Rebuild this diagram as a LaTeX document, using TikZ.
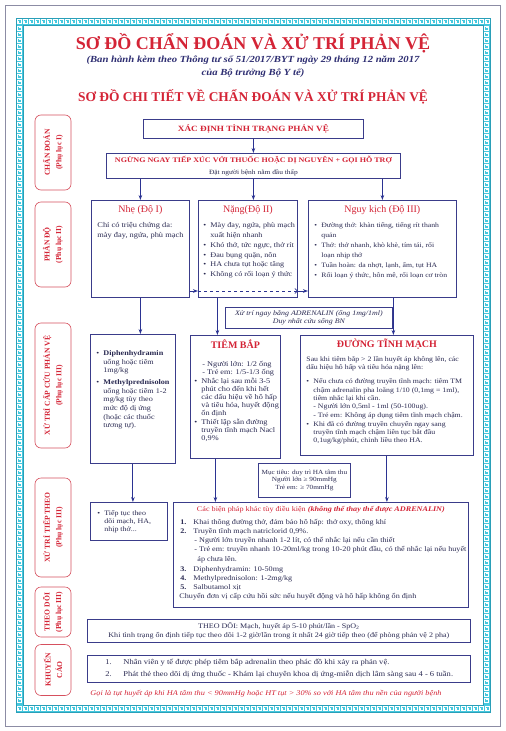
\documentclass[tikz,border=0pt]{standalone}
\usepackage{fontspec}
\setmainfont{Liberation Serif}
\newfontfamily\bodyfam{Liberation Serif}[FakeStretch=1.15]
\usetikzlibrary{arrows.meta, positioning, calc}

\definecolor{titlered}{HTML}{D42436}
\definecolor{labred}{HTML}{D6505E}
\definecolor{boxnavy}{HTML}{3A3C8A}
\definecolor{arrownavy}{HTML}{2B3392}
\definecolor{bodytext}{HTML}{2A2A52}
\definecolor{subnavy}{HTML}{2E2E72}
\definecolor{keycyan}{HTML}{45C8DE}
\definecolor{keyteal}{HTML}{2A9FB8}
\definecolor{framegray}{HTML}{8C8CA4}

\newcommand{\titlefont}{\fontsize{18}{20}\selectfont\bfseries}
\newcommand{\subtitlefont}{\bodyfam\fontsize{9.3}{13}\selectfont\bfseries\itshape}
\newcommand{\headfont}{\fontsize{13.4}{15}\selectfont\bfseries}
\newcommand{\labfont}{\fontsize{7.6}{11.5}\selectfont\bfseries}
\newcommand{\capfont}{\bodyfam\fontsize{8}{10}\selectfont\bfseries}
\newcommand{\bodyfont}[2]{\bodyfam\fontsize{#1}{#2}\selectfont}
\newcommand{\boxhead}[1]{{\centering\fontsize{10}{12}\selectfont\color{titlered}#1\par}}
\newcommand{\boxheadbf}[1]{{\centering\fontsize{10}{12}\selectfont\bfseries\color{titlered}#1\par}}
\newcommand{\panelbody}[3]{\parbox[c][\dimexpr#2pt-6pt\relax][t]{\dimexpr#1pt-6pt\relax}{#3}}
\newcommand{\bul}[2][0pt]{\par\noindent\hspace*{#1}\makebox[7pt][l]{\textbullet}\begin{tabular}[t]{@{}l@{}}#2\end{tabular}}
\newcommand{\numit}[3][0pt]{\par\noindent\hspace*{#1}\makebox[13pt][l]{\textbf{#2}}\begin{tabular}[t]{@{}l@{}}#3\end{tabular}}
\newcommand{\plainlines}[2][0pt]{\par\noindent\hspace*{#1}\begin{tabular}[t]{@{}l@{}}#2\end{tabular}}

\tikzset{
  panel/.style={
    rectangle, draw=boxnavy, line width=0.8pt,
    anchor=north west, inner sep=3pt, text=bodytext
  },
  cpanel/.style={
    rectangle, draw=boxnavy, line width=0.8pt,
    anchor=north west, inner sep=1pt, align=center, text=bodytext
  },
  sidelabel/.style={
    rectangle, rounded corners=6pt, draw=labred, line width=0.6pt,
    rotate=90, minimum height=36pt, inner sep=1pt,
    align=center, text=titlered, font=\labfont
  },
  arrow/.style={-{Stealth[length=5pt, width=3.6pt]}, draw=arrownavy, line width=1pt},
  dasharrow/.style={-{Straight Barb[length=2.5pt, width=5pt]}, draw=arrownavy, line width=0.6pt, dashed},
  keyline/.style={draw=white, line width=0.55pt},
  keyedge/.style={draw=keyteal, line width=0.4pt}
}

\begin{document}
\begin{tikzpicture}[x=1pt, y=-1pt]

% ── Page and frame ───────────────────────────────────────────────────────────
\useasboundingbox (0,0) rectangle (506,731);
\fill[white] (0,0) rectangle (506,731);
\draw[framegray, line width=0.7pt] (5,5) rectangle (500,726);
\fill[keycyan, even odd rule] (16,18) rectangle (490,712) (23,25) rectangle (483,705);
\foreach \x in {16,22,...,484} {
  \draw[keyline, shift={(\x,18)}] (0.9,6.2) -- (0.9,1.2) -- (5.1,1.2) -- (5.1,4.8) -- (2.7,4.8) -- (2.7,3);
  \draw[keyline, shift={(\x,705)}] (0.9,6.2) -- (0.9,1.2) -- (5.1,1.2) -- (5.1,4.8) -- (2.7,4.8) -- (2.7,3);
}
\foreach \y in {25,31,...,699} {
  \draw[keyline, shift={(16,\y)}] (6.2,0.9) -- (1.2,0.9) -- (1.2,5.1) -- (4.8,5.1) -- (4.8,2.7) -- (3,2.7);
  \draw[keyline, shift={(483,\y)}] (6.2,0.9) -- (1.2,0.9) -- (1.2,5.1) -- (4.8,5.1) -- (4.8,2.7) -- (3,2.7);
}
\draw[keyedge] (16,18) rectangle (490,712) (23,25) rectangle (483,705);

% ── Titles ───────────────────────────────────────────────────────────────────
\node[font=\titlefont, text=titlered] (title) at (253,43)
  {SƠ ĐỒ CHẨN ĐOÁN VÀ XỬ TRÍ PHẢN VỆ};
\node[font=\subtitlefont, text=subnavy, align=center] (subtitle) at (253,66.5)
  {(Ban hành kèm theo Thông tư số 51/2017/BYT ngày 29 tháng 12 năm 2017\\của Bộ trưởng Bộ Y tế)};
\node[font=\headfont, text=titlered] (title2) at (253,97)
  {SƠ ĐỒ CHI TIẾT VỀ CHẨN ĐOÁN VÀ XỬ TRÍ PHẢN VỆ};

% ── Side labels ──────────────────────────────────────────────────────────────
\node[sidelabel, minimum width=75pt] (labchandoan) at (53,152.5) {CHẨN ĐOÁN\\(Phụ lục I)};
\node[sidelabel, minimum width=85pt] (labphando) at (53,244.5) {PHÂN ĐỘ\\(Phụ lục II)};
\node[sidelabel, minimum width=125pt] (labcapcuu) at (53,385.5) {XỬ TRÍ CẤP CỨU PHẢN VỆ\\(Phụ lục III)};
\node[sidelabel, minimum width=99pt] (labtiep) at (53,527.5) {XỬ TRÍ TIẾP THEO\\(Phụ lục III)};
\node[sidelabel, minimum width=50pt] (labtheodoi) at (53,612) {THEO DÕI\\(Phụ lục III)};
\node[sidelabel, minimum width=51pt] (labkhuyen) at (53,670) {KHUYẾN\\CÁO};

% ── Chẩn đoán ────────────────────────────────────────────────────────────────
\node[cpanel, minimum width=220pt, minimum height=19pt, font=\capfont, text=titlered]
  (xacdinh) at (143,119) {XÁC ĐỊNH TÌNH TRẠNG PHẢN VỆ};
\node[cpanel, minimum width=294pt, minimum height=25pt] (ngung) at (106,153)
  {{\bodyfont{7}{9}\bfseries\color{titlered}NGỪNG NGAY TIẾP XÚC VỚI THUỐC HOẶC DỊ NGUYÊN + GỌI HỖ TRỢ}\\
   {\bodyfont{6.5}{9}Đặt người bệnh nằm đầu thấp}};

% ── Phân độ ──────────────────────────────────────────────────────────────────
\node[panel] (nhe) at (91,200) {\panelbody{98}{97}{\vspace*{2pt}\boxhead{Nhẹ (Độ I)}\vspace{6pt}
  \bodyfont{7.3}{9.5}
  \plainlines[3pt]{Chỉ có triệu chứng da:\\mày đay, ngứa, phù mạch}}};
\node[panel] (nang) at (198,200) {\panelbody{99}{97}{\vspace*{2pt}\boxhead{Nặng(Độ II)}\vspace{6pt}
  \bodyfont{7.1}{9.5}
  \bul[2pt]{Mày đay, ngứa, phù mạch\\xuất hiện nhanh}
  \bul[2pt]{Khó thở, tức ngực, thở rít}
  \bul[2pt]{Đau bụng quặn, nôn}
  \bul[2pt]{HA chưa tụt hoặc tăng}
  \bul[2pt]{Không có rối loạn ý thức}}};
\node[panel] (nguy) at (308,200) {\panelbody{148}{97}{\vspace*{2pt}\boxhead{Nguy kịch (Độ III)}\vspace{6pt}
  \bodyfont{6.7}{9.5}
  \bul[3pt]{Đường thở: khàn tiếng, tiếng rít thanh\\quản}
  \bul[3pt]{Thở: thở nhanh, khò khè, tím tái, rối\\loạn nhịp thở}
  \bul[3pt]{Tuần hoàn: da nhợt, lạnh, ẩm, tụt HA}
  \bul[3pt]{Rối loạn ý thức, hôn mê, rối loạn cơ tròn}}};

\coordinate (stepy) at (0,291);
\draw[arrow] (nhe.east |- stepy) -- (nang.west |- stepy);
\draw[dasharrow] (nang.west |- stepy) -- (nang.east |- stepy);
\draw[arrow] (nang.east |- stepy) -- (nguy.west |- stepy);

\draw[arrow] (xacdinh) -- (ngung);
\draw[arrow] (ngung.south -| nhe.north) -- (nhe.north);
\draw[arrow] (ngung.south) -- (ngung.south |- nang.north);
\draw[arrow] (ngung.south -| nguy.north) -- (nguy.north);

% ── Xử trí cấp cứu ───────────────────────────────────────────────────────────
\node[cpanel, minimum width=167pt, minimum height=21pt, font={\bodyfont{6.9}{7.6}\itshape}]
  (adren) at (225,307) {Xử trí ngay bằng ADRENALIN (ống 1mg/1ml)\\Duy nhất cứu sống BN};

\node[panel] (diphen) at (90,334) {\panelbody{85}{129}{\vspace*{12pt}
  \bodyfont{7.1}{8.6}
  \bul[3pt]{\textbf{Diphenhydramin}\\uống hoặc tiêm\\1mg/kg}\vspace{2.5pt}
  \bul[3pt]{\textbf{Methylprednisolon}\\uống hoặc tiêm 1-2\\mg/kg tùy theo\\mức độ dị ứng\\(hoặc các thuốc\\tương tự).}}};
\node[panel] (tiembap) at (190,335) {\panelbody{90}{123}{\vspace*{1pt}\boxheadbf{TIÊM BẮP}\vspace{10pt}
  \bodyfont{7.2}{8}
  \plainlines[9pt]{- Người lớn: 1/2 ống\\- Trẻ em: 1/5-1/3 ống}
  \bul[1pt]{Nhắc lại sau mỗi 3-5\\phút cho đến khi hết\\các dấu hiệu về hô hấp\\và tiêu hóa, huyết động\\ổn định}
  \bul[1pt]{Thiết lập sẵn đường\\truyền tĩnh mạch Nacl\\0,9\%}}};
\node[panel] (tinhmach) at (300,335) {\panelbody{173}{120}{\vspace*{1pt}\boxheadbf{ĐƯỜNG TĨNH MẠCH}\vspace{5pt}
  \bodyfont{6.8}{8.3}
  \plainlines[3pt]{Sau khi tiêm bắp > 2 lần huyết áp không lên, các\\dấu hiệu hô hấp và tiêu hóa nặng lên:}\vspace{5pt}
  \bul[3pt]{Nếu chưa có đường truyền tĩnh mạch: tiêm TM\\chậm adrenalin pha loãng 1/10 (0,1mg = 1ml),\\tiêm nhắc lại khi cần.\\- Người lớn 0,5ml - 1ml (50-100ug).\\- Trẻ em: Không áp dụng tiêm tĩnh mạch chậm.}
  \bul[3pt]{Khi đã có đường truyền chuyển ngay sang\\truyền tĩnh mạch chậm liên tục bắt đầu\\0,1ug/kg/phút, chỉnh liều theo HA.}}};

\node[cpanel, minimum width=92pt, minimum height=34pt, font={\bodyfont{6.3}{7.5}}]
  (muctieu) at (258,463) {Mục tiêu: duy trì HA tâm thu\\Người lớn ≥ 90mmHg\\Trẻ em: ≥ 70mmHg};

\coordinate (nangout) at ([xshift=-30.5pt]nang.south);
\coordinate (nguyout) at ([xshift=11pt]nguy.south);
\draw[arrow] (nhe.south) -- (nhe.south |- diphen.north);
\draw[arrow] (nangout) -- (nangout |- tiembap.north);
\draw[arrow] (nguyout) -- (nguyout |- tinhmach.north);

% ── Xử trí tiếp theo ─────────────────────────────────────────────────────────
\node[panel] (tieptuc) at (90,502) {\panelbody{77}{38}{\vspace*{4pt}
  \bodyfont{6.9}{8}
  \bul[4pt]{Tiếp tục theo\\dõi mạch, HA,\\nhịp thở...}}};
\node[panel] (bienphap) at (173,502) {\panelbody{295}{105}{\vspace*{1pt}
  \bodyfont{7.1}{9.1}
  {\centering\color{titlered}Các biện pháp khác tùy điều kiện \textbf{\textit{(không thể thay thế được ADRENALIN)}}\par}\vspace{4pt}
  \numit[4pt]{1.}{Khai thông đường thở, đảm bảo hô hấp: thở oxy, thông khí}
  \numit[4pt]{2.}{Truyền tĩnh mạch natriclorid 0,9\%.}
  \plainlines[18pt]{- Người lớn truyền nhanh 1-2 lít, có thể nhắc lại nếu cần thiết}
  \plainlines[18pt]{- Trẻ em: truyền nhanh 10-20ml/kg trong 10-20 phút đầu, có thể nhắc lại nếu huyết\\\hspace*{3pt}áp chưa lên.}
  \numit[4pt]{3.}{Diphenhydramin: 10-50mg}
  \numit[4pt]{4.}{Methylprednisolon: 1-2mg/kg}
  \numit[4pt]{5.}{Salbutamol xịt}
  \plainlines[3pt]{Chuyển đơn vị cấp cứu hồi sức nếu huyết động và hô hấp không ổn định}}};

\coordinate (bapout) at ([xshift=-20pt]tiembap.south);
\draw[arrow] (diphen.south) -- (diphen.south |- tieptuc.north);
\draw[arrow] (bapout) -- (bapout |- bienphap.north);
\draw[arrow] (tinhmach.south) -- (tinhmach.south |- bienphap.north);

% ── Theo dõi và khuyến cáo ───────────────────────────────────────────────────
\node[cpanel, minimum width=383pt, minimum height=23pt, font={\bodyfont{7}{8.4}}]
  (theodoi) at (87,619) {THEO DÕI: Mạch, huyết áp 5-10 phút/lần - SpO\textsubscript{2}\\
  Khi tình trạng ổn định tiếp tục theo dõi 1-2 giờ/lần trong ít nhất 24 giờ tiếp theo (để phòng phản vệ 2 pha)};
\node[panel] (khuyencao) at (87,655) {\panelbody{383}{27}{\vspace*{1pt}
  \bodyfont{7.4}{12}
  \par\noindent\hspace*{15pt}\makebox[18pt][l]{1.}Nhân viên y tế được phép tiêm bắp adrenalin theo phác đồ khi xảy ra phản vệ.
  \par\noindent\hspace*{15pt}\makebox[18pt][l]{2.}Phát thẻ theo dõi dị ứng thuốc - Khám lại chuyên khoa dị ứng-miễn dịch lâm sàng sau 4 - 6 tuần.}};

\node[font={\bodyfont{7.2}{9}\itshape}, text=titlered] (note) at (266,694)
  {Gọi là tụt huyết áp khi HA tâm thu < 90mmHg hoặc HT tụt > 30\% so với HA tâm thu nền của người bệnh};

\end{tikzpicture}
\end{document}
